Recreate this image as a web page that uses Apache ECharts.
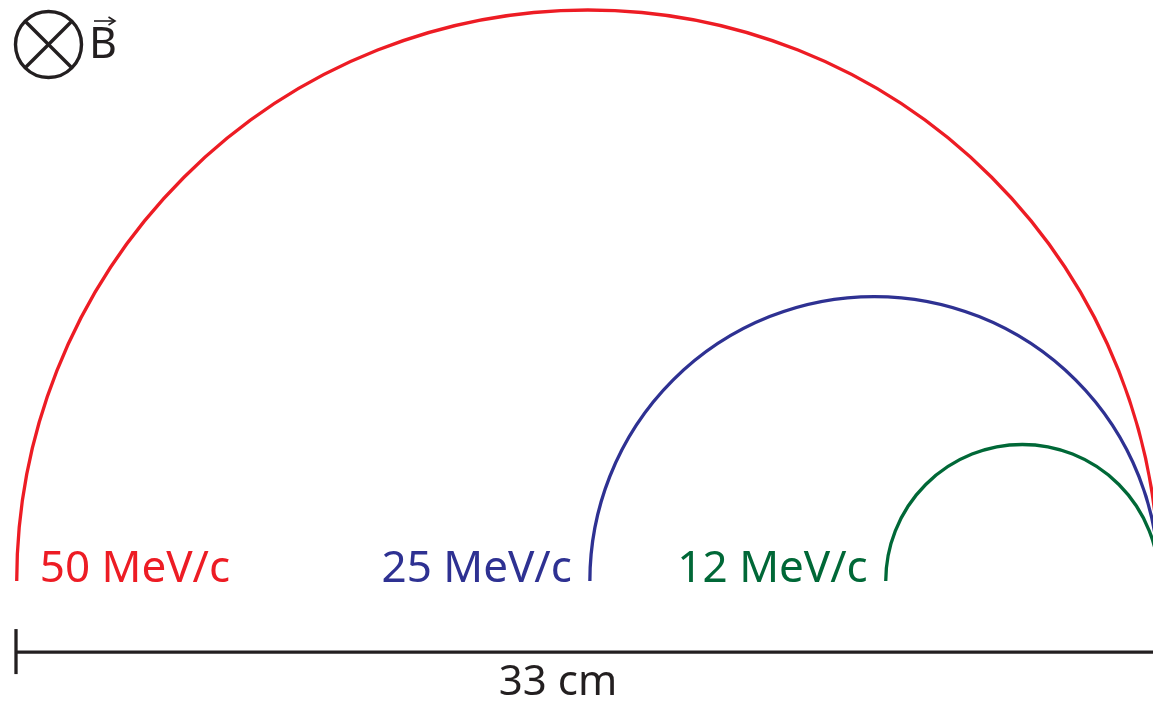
<!DOCTYPE html>
<html>
<head>
<meta charset="utf-8">
<script src="https://cdn.jsdelivr.net/npm/echarts@6/dist/echarts.min.js"></script>
<style>
  html, body { margin: 0; padding: 0; background: #fff; }
  #chart { width: 1153px; height: 704px; }
</style>
</head>
<body>
<div id="chart"></div>
<script>
// momentum labels and track radii (cm); all tracks share their right end point
var labels = ["50 MeV/c", "25 MeV/c", "12 MeV/c"];
var radii = [16.56, 8.25, 3.96];
var colors = ["#ED1C24", "#2E3192", "#006837"];
var scaleBar = [0, 33];
var scaleLabel = "33 cm";
var trackEnd = 33.17;

var FONT = "Noto Sans";
var chart = echarts.init(document.getElementById("chart"));

var arcData = radii.map(function (r, i) {
  return [trackEnd - r, 0, r, i];
});

chart.setOption({
  animation: false,
  grid: { left: 15, right: 0, top: 1.7, bottom: 19.5 },
  xAxis: { type: "value", min: 0, max: 33, show: false },
  yAxis: { type: "value", min: -3, max: 16.8, show: false },
  series: [
    {
      // semicircular tracks
      type: "custom",
      coordinateSystem: "cartesian2d",
      clip: false,
      data: arcData,
      renderItem: function (params, api) {
        var c = api.coord([api.value(0), api.value(1)]);
        var r = api.size([api.value(2), 0])[0];
        var i = api.value(3);
        var leftX = c[0] - r;
        var first = i === 0;
        return {
          type: "group",
          children: [
            {
              type: "arc",
              shape: { cx: c[0], cy: c[1], r: r, startAngle: Math.PI, endAngle: Math.PI * 2, clockwise: true },
              style: { stroke: colors[i], lineWidth: 3.3, fill: null }
            },
            {
              type: "text",
              x: first ? leftX + 23 : leftX - 18,
              y: c[1] - 12,
              style: {
                text: labels[i],
                fill: colors[i],
                font: "44px '" + FONT + "'",
                align: first ? "left" : "right",
                verticalAlign: "middle"
              }
            }
          ]
        };
      }
    },
    {
      // scale bar
      type: "custom",
      coordinateSystem: "cartesian2d",
      clip: false,
      data: [[scaleBar[0], scaleBar[1]]],
      renderItem: function (params, api) {
        var a = api.coord([api.value(0), -2.06]);
        var b = api.coord([api.value(1), -2.06]);
        return {
          type: "group",
          children: [
            { type: "line", shape: { x1: a[0], y1: a[1], x2: b[0] + 5, y2: b[1] }, style: { stroke: "#231F20", lineWidth: 3.3 } },
            { type: "line", shape: { x1: a[0] + 1, y1: a[1] - 23, x2: a[0] + 1, y2: a[1] + 22 }, style: { stroke: "#231F20", lineWidth: 3.3 } },
            {
              type: "text",
              x: (a[0] + b[0]) / 2 - 26,
              y: a[1] + 31,
              style: { text: scaleLabel, fill: "#231F20", font: "42px '" + FONT + "'", align: "center", verticalAlign: "middle" }
            }
          ]
        };
      }
    }
  ],
  graphic: [
    { type: "circle", shape: { cx: 48.5, cy: 44.5, r: 33 }, style: { stroke: "#231F20", lineWidth: 3.4, fill: null } },
    { type: "line", shape: { x1: 25.2, y1: 21.2, x2: 71.8, y2: 67.8 }, style: { stroke: "#231F20", lineWidth: 3.4 } },
    { type: "line", shape: { x1: 71.8, y1: 21.2, x2: 25.2, y2: 67.8 }, style: { stroke: "#231F20", lineWidth: 3.4 } },
    { type: "text", x: 89, y: 46, style: { text: "B", fill: "#231F20", font: "43px '" + FONT + "'", verticalAlign: "middle" } },
    { type: "line", shape: { x1: 94, y1: 21, x2: 114, y2: 21 }, style: { stroke: "#231F20", lineWidth: 1.6 } },
    { type: "polyline", shape: { points: [[108.5, 17], [115, 21], [108.5, 25]] }, style: { stroke: "#231F20", lineWidth: 1.6, fill: null } }
  ]
});
</script>
</body>
</html>
